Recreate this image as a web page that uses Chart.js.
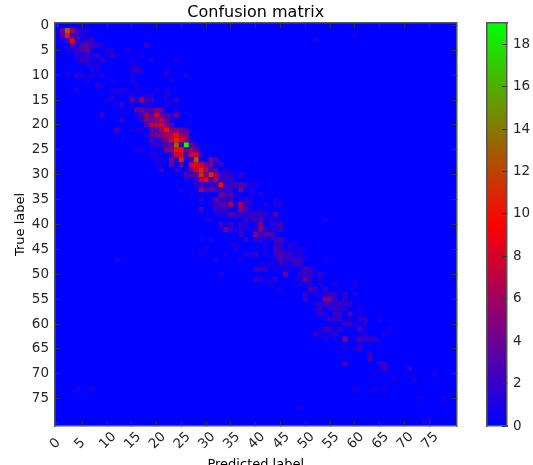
<!DOCTYPE html>
<html>
<head>
<meta charset="utf-8">
<script src="https://cdn.jsdelivr.net/npm/chart.js@4"></script>
<style>
  html, body { margin: 0; padding: 0; background: #fff; overflow: hidden; }
  #matrix, #bar { position: absolute; top: 0; }
  #matrix { left: 0; }
  #bar { left: 470px; }
</style>
</head>
<body>
<canvas id="matrix" width="533" height="465"></canvas>
<canvas id="bar" width="63" height="465"></canvas>
<script>
const tickValues = [0, 5, 10, 15, 20, 25, 30, 35, 40, 45, 50, 55, 60, 65, 70, 75];
const colorbarTicks = [0, 2, 4, 6, 8, 10, 12, 14, 16, 18];
const classCount = 81;
const maxCount = 19;

// [true label, predicted label, count] for every non zero cell
const cells = [
  [1,1,4],[1,2,13],[1,3,6],[1,4,2],[1,5,1],[1,6,1],
  [2,1,3],[2,2,10],[2,3,2],[2,4,2],[2,5,1],[2,60,1],
  [3,1,1],[3,2,2],[3,3,9],[3,4,2],[3,5,1],[3,6,2],[3,7,2],[3,52,1],
  [4,3,3],[4,4,1],[4,5,3],[4,6,4],[4,7,2],[4,8,2],[4,9,1],[4,18,2],
  [5,2,1],[5,3,1],[5,4,2],[5,5,3],[5,6,4],[5,7,1],[5,10,1],[5,11,1],[5,14,1],
  [6,4,2],[6,5,1],[6,6,2],[6,7,1],[6,8,2],[6,10,1],[6,11,2],[6,12,1],[6,17,1],
  [7,4,1],[7,5,2],[7,6,2],[7,7,1],[7,9,2],[7,15,1],[7,19,1],[7,24,1],
  [8,6,1],[8,7,1],[8,8,1],[8,15,1],[8,16,1],
  [9,7,1],[9,8,1],[9,15,1],[9,16,2],[9,17,1],[9,22,1],
  [10,2,1],[10,4,2],[10,5,1],[10,7,1],[10,9,1],[10,15,1],[10,22,1],[10,26,1],
  [11,6,1],[11,11,1],[11,15,1],[11,23,1],
  [12,8,2],[12,9,1],[12,16,1],
  [13,4,1],[13,11,1],[13,12,1],[13,13,1],[13,14,1],[13,16,1],[13,20,1],[13,22,1],
  [14,11,1],[14,13,1],[14,15,1],[14,17,1],[14,18,1],[14,19,1],[14,22,1],
  [15,10,1],[15,11,1],[15,15,4],[15,16,2],[15,17,6],[15,18,3],[15,19,2],[15,22,1],[15,24,2],
  [16,12,1],[16,13,2],[16,15,1],[16,18,1],[16,19,1],[16,22,1],
  [17,16,4],[17,17,4],[17,18,3],[17,19,3],[17,20,5],[17,21,4],[17,24,1],
  [18,9,2],[18,16,1],[18,17,3],[18,18,6],[18,19,3],[18,20,8],[18,21,4],[18,22,3],[18,23,1],[18,24,4],
  [19,13,2],[19,17,2],[19,18,5],[19,19,4],[19,20,5],[19,21,7],[19,22,4],[19,23,1],
  [20,18,3],[20,19,7],[20,20,7],[20,21,8],[20,22,5],[20,23,3],
  [21,12,3],[21,15,1],[21,16,1],[21,17,1],[21,19,4],[21,20,3],[21,21,6],[21,22,10],[21,23,5],[21,24,5],[21,25,4],[21,26,3],
  [22,18,1],[22,19,3],[22,20,5],[22,21,5],[22,22,6],[22,23,7],[22,24,10],[22,25,6],[22,26,5],
  [23,19,3],[23,20,1],[23,21,3],[23,22,5],[23,23,8],[23,24,11],[23,25,9],[23,26,6],[23,27,1],
  [24,19,1],[24,20,2],[24,21,2],[24,22,3],[24,23,4],[24,24,13],[24,25,2],[24,26,19],[24,27,4],[24,28,2],
  [25,16,1],[25,17,1],[25,19,1],[25,22,5],[25,23,5],[25,24,10],[25,25,10],[25,26,4],[25,27,5],[25,28,4],
  [26,19,1],[26,20,1],[26,23,2],[26,24,8],[26,25,8],[26,26,3],[26,27,8],[26,28,8],[26,29,2],
  [27,20,1],[27,21,1],[27,23,5],[27,24,2],[27,25,11],[27,26,1],[27,27,2],[27,28,13],[27,29,1],[27,31,5],[27,32,3],
  [28,20,1],[28,23,4],[28,25,4],[28,27,8],[28,28,9],[28,29,8],[28,30,5],[28,31,4],[28,33,2],
  [29,21,2],[29,24,2],[29,26,1],[29,27,4],[29,28,8],[29,29,11],[29,30,7],[29,31,3],[29,32,3],[29,34,1],
  [30,26,3],[30,27,3],[30,28,4],[30,29,11],[30,30,5],[30,31,11],[30,32,6],[30,33,2],[30,34,2],[30,35,2],[30,37,2],
  [31,26,1],[31,28,2],[31,29,7],[31,30,9],[31,31,3],[31,32,7],[31,33,2],[31,34,2],[31,35,2],
  [32,28,2],[32,29,2],[32,30,2],[32,31,2],[32,32,2],[32,33,10],[32,34,2],[32,35,2],[32,36,3],[32,37,3],[32,38,2],[32,39,1],[32,40,1],
  [33,25,1],[33,29,6],[33,30,3],[33,31,4],[33,32,3],[33,33,2],[33,34,2],[33,35,2],[33,37,4],[33,39,1],
  [34,27,1],[34,33,4],[34,34,3],[34,35,3],[34,36,1],[34,39,1],[34,41,1],
  [35,29,2],[35,31,1],[35,32,4],[35,33,2],[35,34,2],[35,35,2],[35,37,1],[35,38,2],[35,39,1],[35,44,1],
  [36,31,1],[36,32,2],[36,33,3],[36,34,3],[36,35,6],[36,36,1],[36,37,6],[36,38,2],[36,39,1],[36,42,1],[36,44,1],[36,45,1],
  [37,29,3],[37,32,2],[37,33,2],[37,34,2],[37,37,5],[37,38,3],[37,39,1],[37,41,1],
  [38,32,1],[38,33,1],[38,34,1],[38,35,3],[38,36,2],[38,37,2],[38,38,1],[38,39,2],[38,40,2],[38,41,2],[38,42,1],[38,43,1],[38,44,3],
  [39,30,1],[39,31,1],[39,36,1],[39,38,2],[39,39,2],[39,40,2],[39,41,2],[39,42,1],[39,43,1],[39,54,1],
  [40,33,2],[40,34,1],[40,35,2],[40,37,2],[40,38,1],[40,40,1],[40,41,5],[40,43,1],[40,44,2],[40,45,2],
  [41,33,1],[41,34,4],[41,35,2],[41,36,1],[41,37,1],[41,38,1],[41,39,1],[41,40,1],[41,41,5],[41,42,2],[41,43,1],[41,44,1],[41,45,2],
  [42,37,2],[42,40,5],[42,41,2],[42,42,3],[42,43,3],[42,44,1],
  [43,29,1],[43,31,1],[43,38,2],[43,40,2],[43,41,2],[43,43,1],[43,44,2],[43,45,3],[43,46,1],
  [44,35,1],[44,36,1],[44,42,1],[44,44,2],[44,45,2],[44,47,1],[44,48,1],
  [45,30,1],[45,36,1],[45,42,1],[45,44,3],[45,45,2],[45,46,1],[45,47,1],[45,49,1],[45,50,1],
  [46,29,1],[46,34,1],[46,38,1],[46,39,1],[46,40,2],[46,42,1],[46,44,2],[46,45,3],[46,46,2],[46,47,2],[46,48,1],[46,49,1],
  [47,12,1],[47,32,1],[47,37,1],[47,44,1],[47,45,3],[47,46,2],[47,47,2],[47,48,2],[47,49,2],[47,50,1],[47,54,1],
  [48,41,1],[48,43,1],[48,45,2],[48,46,1],[48,47,1],[48,48,2],[48,49,2],
  [49,40,2],[49,41,2],[49,42,2],[49,44,1],[49,46,1],[49,47,1],[49,49,1],[49,50,3],[49,51,2],[49,52,1],
  [50,33,1],[50,46,4],[50,49,2],[50,50,2],[50,51,2],[50,53,2],
  [51,40,2],[51,41,2],[51,43,1],[51,44,2],[51,48,1],[51,49,1],[51,50,4],[51,51,2],[51,53,1],
  [52,43,1],[52,49,1],[52,50,1],[52,51,1],[52,53,1],[52,56,1],[52,60,1],
  [53,45,1],[53,51,3],[53,52,2],[53,54,2],
  [54,50,2],[54,52,1],[54,53,1],[54,54,1],[54,55,2],[54,56,2],[54,58,2],[54,60,1],
  [55,50,2],[55,54,5],[55,55,5],[55,56,2],[55,58,2],
  [56,52,1],[56,53,2],[56,54,2],[56,55,2],[56,56,2],[56,57,2],[56,58,2],[56,59,2],
  [57,52,1],[57,53,2],[57,55,2],[57,56,2],[57,57,2],[57,58,1],[57,61,1],
  [58,53,2],[58,54,1],[58,56,2],[58,57,2],[58,59,3],[58,60,1],
  [59,54,1],[59,55,2],[59,56,2],[59,57,2],[59,59,1],[59,61,2],[59,62,2],[59,65,1],
  [60,56,1],[60,58,2],[60,59,2],[60,60,1],[60,62,1],
  [61,53,1],[61,54,2],[61,55,2],[61,57,2],[61,59,1],[61,61,3],[61,62,1],[61,67,1],
  [62,52,2],[62,53,1],[62,55,1],[62,56,2],[62,62,1],[62,66,1],
  [63,54,1],[63,56,1],[63,58,5],[63,60,1],[63,61,3],[63,62,2],[63,63,2],[63,64,2],
  [64,61,1],
  [65,58,1],[65,60,1],[65,61,2],
  [66,63,2],
  [67,63,3],
  [68,58,3],[68,65,2],[68,66,2],
  [69,66,2],[69,71,2],
  [70,64,1],[70,76,1],
  [71,68,1],[71,72,1],
  [73,4,1],[73,7,1],[73,60,1],[73,64,1],[73,66,1],
  [75,73,1],[75,78,1],
  [77,49,1],
  [79,75,1],
  [80,74,1]
];

const chartFont = "'DejaVu Sans'";
const textColor = '#262626';
const borderColor = '#555';

// blue -> red -> lime
function countColor(v) {
  const t = v / maxCount;
  if (t < 0.5) {
    const r = Math.round(t * 2 * 255);
    return `rgb(${r},0,${255 - r})`;
  }
  const g = Math.round((t - 0.5) * 2 * 255);
  return `rgb(${255 - g},${g},0)`;
}

const useTicks = (list) => (scale) => {
  scale.ticks = list.map(v => ({ value: v }));
};
const fixSize = (prop, size) => (scale) => { scale[prop] = size; };

function frame(z) {
  return {
    grid: { drawOnChartArea: false, tickLength: -5, color: '#333', z: z },
    border: { color: borderColor, width: 1.5, z: z }
  };
}

const fillArea = {
  id: 'fillArea',
  beforeDatasetsDraw(chart) {
    const a = chart.chartArea;
    chart.ctx.fillStyle = countColor(0);
    chart.ctx.fillRect(a.left, a.top, a.width, a.height);
  }
};

new Chart(document.getElementById('matrix'), {
  type: 'scatter',
  plugins: [fillArea],
  data: {
    datasets: [{
      data: cells.map(c => ({ x: c[1], y: c[0], v: c[2] })),
      pointStyle: 'rect',
      borderWidth: 0,
      pointRadius: (ctx) => ctx.chart.scales.x.width / classCount / Math.SQRT2 + 0.04,
      backgroundColor: (ctx) => ctx.raw ? countColor(ctx.raw.v) : 'blue'
    }]
  },
  options: {
    responsive: false,
    animation: false,
    events: [],
    layout: { padding: { left: 0, right: 76.5, top: 0, bottom: 0 } },
    plugins: {
      legend: { display: false },
      tooltip: { enabled: false }
    },
    scales: {
      x: {
        type: 'linear', position: 'bottom', min: -0.5, max: 80.5,
        ...frame(1),
        afterBuildTicks: useTicks(tickValues),
        afterFit: fixSize('height', 39),
        ticks: {
          color: textColor, font: { family: chartFont, size: 13.5 }, padding: 8,
          minRotation: 45, maxRotation: 45, labelOffset: 7, autoSkip: false,
          callback: (v) => v < 10 ? v + '  ' : String(v)
        },
        title: {
          display: true, text: 'Predicted label', color: '#000',
          font: { family: chartFont, size: 13 }, padding: { top: 0, bottom: -7 }
        }
      },
      y: {
        type: 'linear', position: 'left', reverse: true, min: -0.5, max: 80.5,
        ...frame(1),
        afterBuildTicks: useTicks(tickValues),
        afterFit: fixSize('width', 55),
        ticks: { color: textColor, font: { family: chartFont, size: 13.5 }, padding: 11, autoSkip: false },
        title: {
          display: true, text: 'True label', color: '#000',
          font: { family: chartFont, size: 13 }, padding: { top: 13, bottom: 0 }
        }
      },
      x2: {
        type: 'linear', position: 'top', min: -0.5, max: 80.5,
        ...frame(1),
        afterBuildTicks: useTicks(tickValues),
        afterFit: fixSize('height', 23),
        ticks: { display: false, autoSkip: false },
        title: {
          display: true, text: 'Confusion matrix', color: '#000',
          font: { family: chartFont, size: 16 }, padding: { top: 3, bottom: 0 }
        }
      },
      y2: {
        type: 'linear', position: 'right', reverse: true, min: -0.5, max: 80.5,
        ...frame(1),
        afterBuildTicks: useTicks(tickValues),
        afterFit: fixSize('width', 0),
        ticks: { display: false, autoSkip: false }
      }
    }
  }
});

new Chart(document.getElementById('bar'), {
  type: 'bar',
  data: {
    labels: [''],
    datasets: [{
      data: [[0, maxCount]],
      barPercentage: 1,
      categoryPercentage: 1,
      borderWidth: 0,
      backgroundColor: (ctx) => {
        const y = ctx.chart.scales.y;
        if (!y || !ctx.chart.chartArea) return 'blue';
        const g = ctx.chart.ctx.createLinearGradient(0, y.getPixelForValue(0), 0, y.getPixelForValue(maxCount));
        g.addColorStop(0, countColor(0));
        g.addColorStop(0.5, countColor(maxCount / 2));
        g.addColorStop(1, countColor(maxCount));
        return g;
      }
    }]
  },
  options: {
    responsive: false,
    animation: false,
    events: [],
    layout: { padding: { left: 17, right: 0, top: 23, bottom: 0 } },
    plugins: { legend: { display: false }, tooltip: { enabled: false } },
    scales: {
      x: {
        grid: { display: false },
        border: { color: borderColor, width: 1.5, z: 1 },
        afterFit: fixSize('height', 39),
        ticks: { display: false }
      },
      y: {
        type: 'linear', position: 'right', min: 0, max: maxCount,
        ...frame(1),
        afterBuildTicks: useTicks(colorbarTicks),
        afterFit: fixSize('width', 26),
        ticks: { color: textColor, font: { family: chartFont, size: 13.5 }, padding: 11, crossAlign: 'near', autoSkip: false, callback: (v) => String(v) }
      },
      x2: {
        type: 'category', position: 'top',
        grid: { display: false },
        border: { color: borderColor, width: 1.5, z: 1 },
        afterFit: fixSize('height', 0),
        ticks: { display: false }
      },
      y2: {
        type: 'linear', position: 'left', min: 0, max: maxCount,
        grid: { display: false },
        border: { color: borderColor, width: 1.5, z: 1 },
        afterFit: fixSize('width', 0),
        ticks: { display: false }
      }
    }
  }
});
</script>
</body>
</html>
